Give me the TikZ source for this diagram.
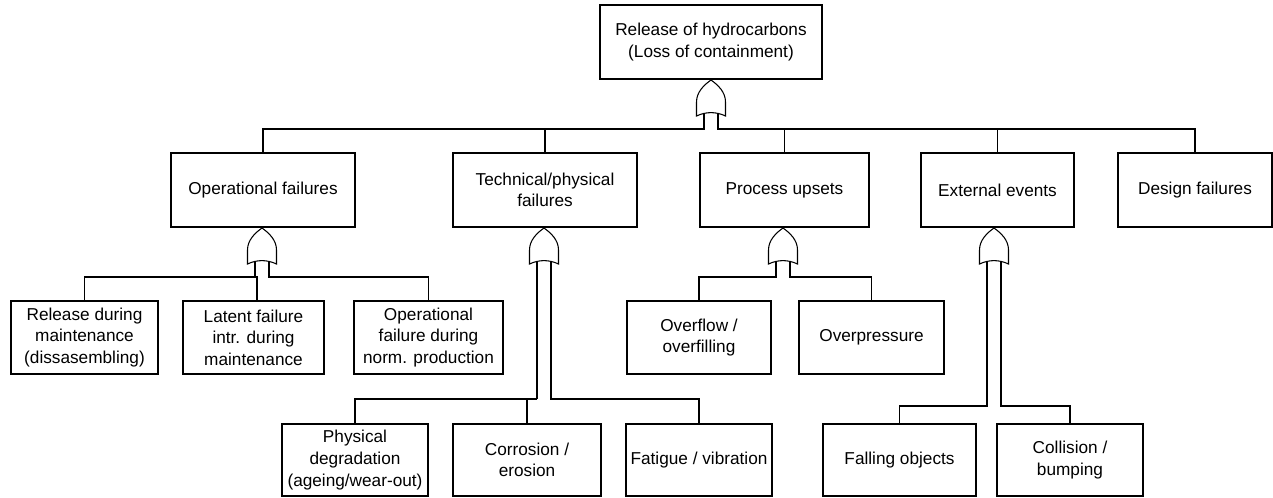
\documentclass[tikz,border=0pt]{standalone}
\usepackage{fontspec}
\setmainfont{Liberation Sans}

% OR gate with its apex at (#2,#3); defines the two output leg points #1-l and #1-r
\newcommand\orgate[3]{%
  \begin{scope}[shift={(#2,#3)}]
    \draw (-14.5,36) -- (-14.5,22)
      .. controls (-14.5,12) and (-7,5) .. (0,0)
      .. controls (7,5) and (14.5,12) .. (14.5,22)
      -- (14.5,36)
      .. controls (5,31.5) and (-5,31.5) .. cycle;
    \coordinate (#1-l) at (-7,33.4);
    \coordinate (#1-r) at (7,33.4);
  \end{scope}}

\begin{document}
\begin{tikzpicture}[x=0.02cm, y=-0.02cm, line width=0.6pt,
  ev/.style 2 args={draw, inner sep=0pt, align=center,
    minimum width=#1*0.02cm, minimum height=#2*0.02cm,
    font=\fontsize{9.8}{12.3}\selectfont},
  thickwire/.style={line width=1.2pt}]
\useasboundingbox (0,0) rectangle (1273,497);

% top event
\node[ev={222}{74}] (top) at (711,42) {Release of hydrocarbons\\(Loss of containment)};

% first level
\node[ev={184}{74}] (op)   at (263,190)   {Operational failures};
\node[ev={184}{74}] (tech) at (545,190)   {Technical/physical\\failures};
\node[ev={169}{74}] (proc) at (784.5,190) {Process upsets};
\node[ev={153}{74}] (ext)  at (997.5,190) {External events};
\node[ev={154}{74}] (des)  at (1195,190)  {Design failures};

% second level
\node[ev={147}{73}] (rel) at (84.5,337.5)  {Release during\\maintenance\\(dissasembling)};
\node[ev={141}{73}] (lat) at (253.5,337.5) {Latent failure\\intr. during\\maintenance};
\node[ev={149}{73}] (opf) at (428.5,337.5) {Operational\\failure during\\norm. production};
\node[ev={144}{73}] (ovf) at (699,337.5)   {Overflow /\\overfilling};
\node[ev={145}{73}] (ovp) at (871.5,337.5) {Overpressure};

% third level
\node[ev={146}{72}] (phys) at (355,460)   {Physical\\degradation\\(ageing/wear-out)};
\node[ev={148}{72}] (corr) at (527,460)   {Corrosion /\\erosion};
\node[ev={146}{72}] (fat)  at (699,460)   {Fatigue / vibration};
\node[ev={153}{72}] (fall) at (899.5,460) {Falling objects};
\node[ev={146}{72}] (col)  at (1070,460)  {Collision /\\bumping};

% gates
\orgate{g0}{711}{80}
\orgate{g1}{262}{228}
\orgate{g2}{544}{228}
\orgate{g3}{783}{228}
\orgate{g4}{994}{228}

% bus levels
\coordinate (b0) at (0,129);
\coordinate (b1) at (0,277);
\coordinate (b2) at (0,399);
\coordinate (b3) at (0,406);
\coordinate (latj) at (257,277);

% top gate
\draw[line width=1pt] (g0-l) -- (g0-l |- b0) -- (tech.north |- b0);
\draw (tech.north |- b0) -| (op.north);
\draw (tech.north) -- (tech.north |- b0);
\draw (g0-r) -- (g0-r |- b0) -| (des.north);
\draw (proc.north) -- (proc.north |- b0);
\draw (ext.north) -- (ext.north |- b0);

% operational failures
\draw (g1-l) -- (g1-l |- b1);
\draw (lat.north -| latj) -- (latj) -| (rel.north);
\draw (g1-r) -- (g1-r |- b1) -| (opf.north);

% technical/physical failures
\draw[thickwire] (g2-l) -- (g2-l |- b2);
\draw (g2-l |- b2) -| (phys.north);
\draw (corr.north) -- (corr.north |- b2);
\draw (g2-r) -- (g2-r |- b2) -| (fat.north);

% process upsets
\draw (g3-l) -- (g3-l |- b1) -| (ovf.north);
\draw (g3-r) -- (g3-r |- b1) -| (ovp.north);

% external events
\draw (g4-l) -- (g4-l |- b3) -| (fall.north);
\draw (g4-r) -- (g4-r |- b3) -| (col.north);
\end{tikzpicture}
\end{document}
